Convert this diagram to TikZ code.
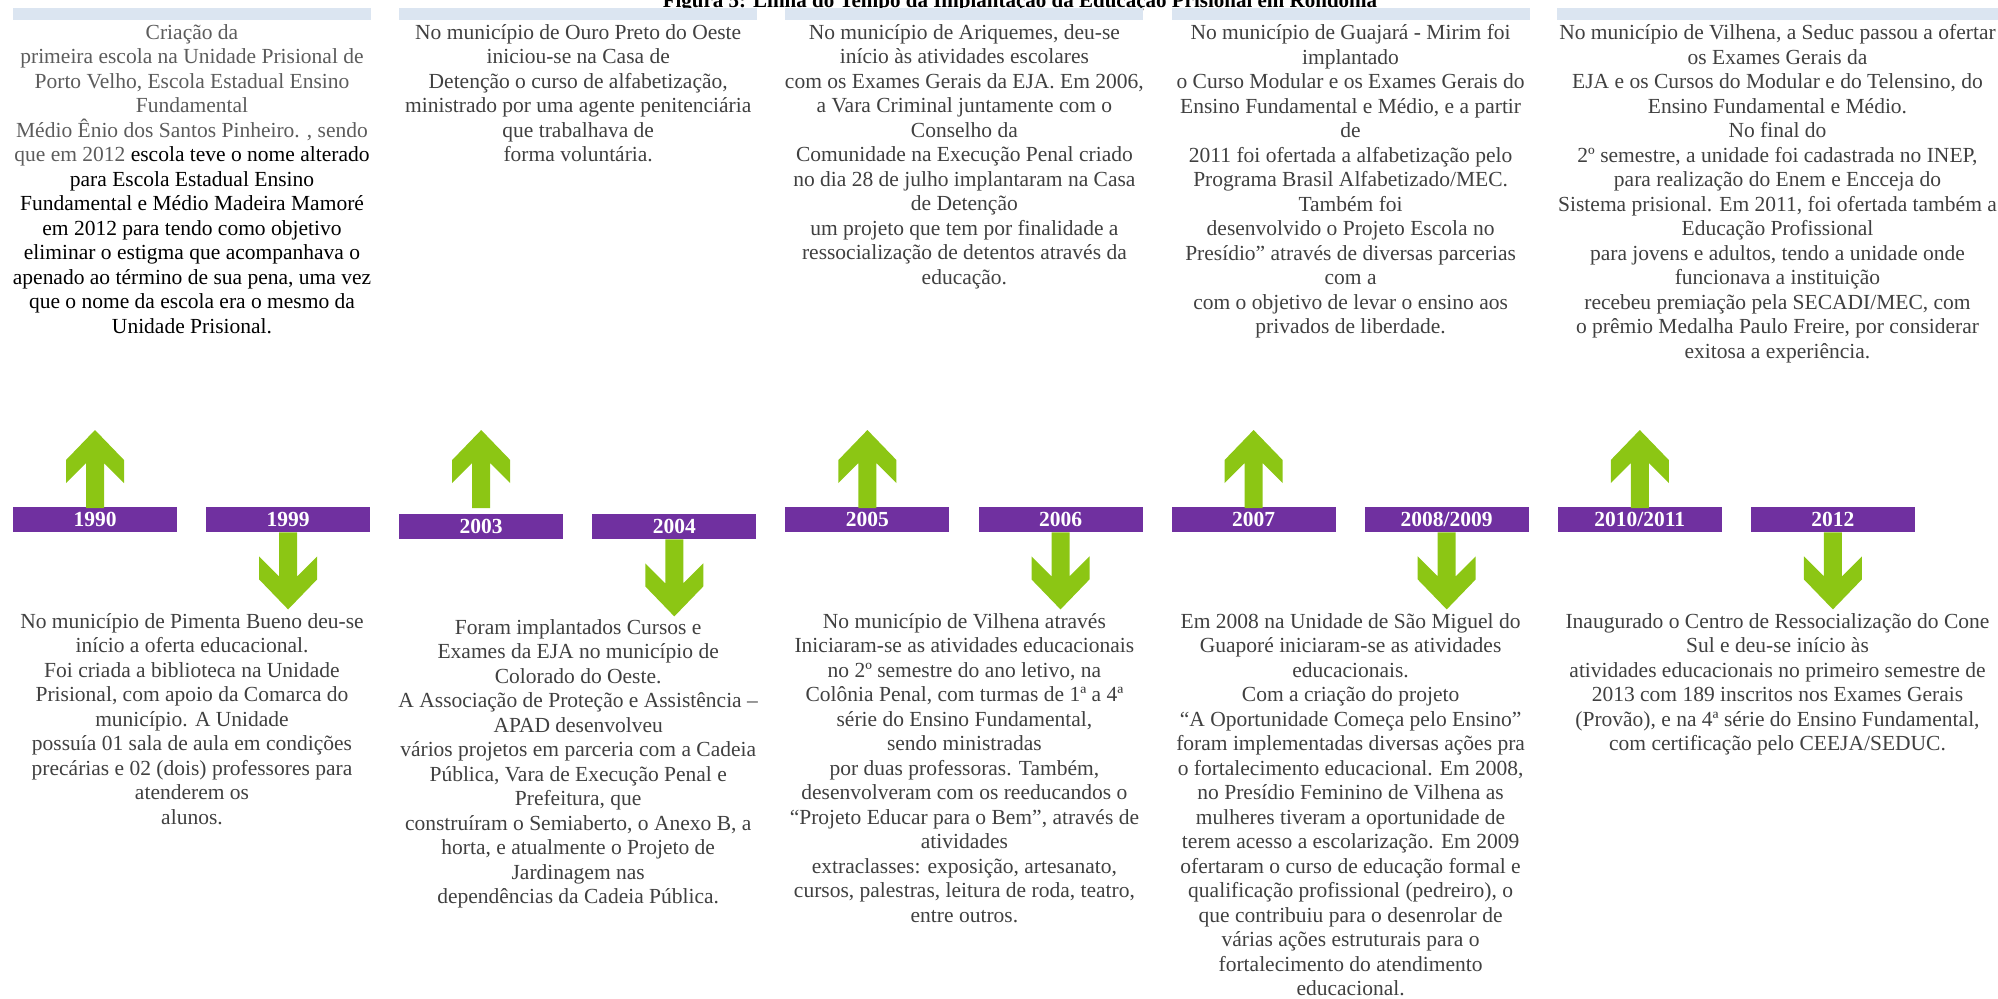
\documentclass[tikz,border=0pt]{standalone}
\usepackage{fontspec}
\setmainfont{Liberation Serif}
\usetikzlibrary{positioning}

\definecolor{yearpurple}{RGB}{112,48,160}
\definecolor{arrowgreen}{RGB}{140,198,20}
\definecolor{headblue}{RGB}{219,229,241}
\definecolor{txtgray}{RGB}{64,64,64}
\definecolor{softgray}{RGB}{92,92,92}

% green arrows, drawn from a year bar
\newcommand{\greenup}[1]{\fill[arrowgreen] (#1.center |- 0,430) -- ++(-29,30) -- ++(0,23) -- ++(20,-20) -- ++(0,45) -- ++(18,0) -- ++(0,-45) -- ++(20,20) -- ++(0,-23) -- cycle;}
\newcommand{\greendown}[1]{\fill[arrowgreen] (#1.south) ++(-9,0) -- ++(0,44) -- ++(-20,-20) -- ++(0,23) -- ++(29,30) -- ++(29,-30) -- ++(0,-23) -- ++(-20,20) -- ++(0,-44) -- cycle;}
\newcommand{\blk}[1]{\textcolor{black}{#1}}

\begin{document}
\begin{tikzpicture}[x=0.5pt,y=-0.5pt,node distance=96.55pt]

% Define block styles
\tikzstyle{year} = [rectangle, fill=yearpurple, text=white, minimum width=82pt, minimum height=12.5pt, inner sep=0pt, font=\fontsize{10.75}{12.25}\selectfont\bfseries]
\tikzstyle{head} = [rectangle, fill=headblue, minimum width=179pt, minimum height=6pt, inner sep=0pt]
\tikzstyle{story} = [align=center, inner sep=0pt, anchor=north, text=txtgray, font=\fontsize{10.75}{12.25}\selectfont]

\useasboundingbox (0,0) rectangle (1998,998);

% Title, cut by the page top
\node (title) [anchor=base, font=\fontsize{10.5}{12}\selectfont\bfseries] at (1020,7) {Figura 5: Linha do Tempo da Implantação da Educação Prisional em Rondônia};

% Header bars
\node (h1) [head] at (192,14) {};
\node (h2) [head, right of = h1, node distance=193.1pt] {};
\node (h3) [head, right of = h2, node distance=193.1pt] {};
\node (h4) [head, right of = h3, node distance=193.1pt] {};
\node (h5) [head, minimum width=220.5pt] at (1777.5,14) {};

% Year bars
\node (y1990) [year] at (95,519.5) {1990};
\node (y1999) [year, right of = y1990] {1999};
\node (y2003) [year, right of = y1999, yshift=-3.5pt] {2003};
\node (y2004) [year, right of = y2003] {2004};
\node (y2005) [year, right of = y2004, yshift=3.5pt] {2005};
\node (y2006) [year, right of = y2005] {2006};
\node (y2007) [year, right of = y2006] {2007};
\node (y2008) [year, right of = y2007] {2008/2009};
\node (y2010) [year, right of = y2008] {2010/2011};
\node (y2012) [year, right of = y2010] {2012};

% Draw arrows
\greenup{y1990}
\greendown{y1999}
\greenup{y2003}
\greendown{y2004}
\greenup{y2005}
\greendown{y2006}
\greenup{y2007}
\greendown{y2008}
\greenup{y2010}
\greendown{y2012}

% Texts above the line
\node (t1990) [story, text=softgray] at (h1.center |- 0,24) {Criação da\\
primeira escola na Unidade Prisional de\\
Porto Velho, Escola Estadual Ensino\\
Fundamental\\
Médio Ênio dos Santos Pinheiro. , sendo\\
que em 2012 \blk{escola teve o nome alterado}\\
\blk{para Escola Estadual Ensino}\\
\blk{Fundamental e Médio Madeira Mamoré}\\
\blk{em 2012 para tendo como objetivo}\\
\blk{eliminar o estigma que acompanhava o}\\
\blk{apenado ao término de sua pena, uma vez}\\
\blk{que o nome da escola era o mesmo da}\\
\blk{Unidade Prisional.}};

\node (t2003) [story] at (h2.center |- 0,24) {No município de Ouro Preto do Oeste\\
iniciou-se na Casa de\\
Detenção o curso de alfabetização,\\
ministrado por uma agente penitenciária\\
que trabalhava de\\
forma voluntária.};

\node (t2005) [story] at (h3.center |- 0,24) {No município de Ariquemes, deu-se\\
início às atividades escolares\\
com os Exames Gerais da EJA. Em 2006,\\
a Vara Criminal juntamente com o\\
Conselho da\\
Comunidade na Execução Penal criado\\
no dia 28 de julho implantaram na Casa\\
de Detenção\\
um projeto que tem por finalidade a\\
ressocialização de detentos através da\\
educação.};

\node (t2007) [story] at (h4.center |- 0,24) {No município de Guajará - Mirim foi\\
implantado\\
o Curso Modular e os Exames Gerais do\\
Ensino Fundamental e Médio, e a partir\\
de\\
2011 foi ofertada a alfabetização pelo\\
Programa Brasil Alfabetizado/MEC.\\
Também foi\\
desenvolvido o Projeto Escola no\\
Presídio” através de diversas parcerias\\
com a\\
com o objetivo de levar o ensino aos\\
privados de liberdade.};

\node (t2010) [story] at (h5.center |- 0,24) {No município de Vilhena, a Seduc passou a ofertar\\
os Exames Gerais da\\
EJA e os Cursos do Modular e do Telensino, do\\
Ensino Fundamental e Médio.\\
No final do\\
2º semestre, a unidade foi cadastrada no INEP,\\
para realização do Enem e Encceja do\\
Sistema prisional. Em 2011, foi ofertada também a\\
Educação Profissional\\
para jovens e adultos, tendo a unidade onde\\
funcionava a instituição\\
recebeu premiação pela SECADI/MEC, com\\
o prêmio Medalha Paulo Freire, por considerar\\
exitosa a experiência.};

% Texts below the line
\node (t1999) [story] at (h1.center |- 0,613) {No município de Pimenta Bueno deu-se\\
início a oferta educacional.\\
Foi criada a biblioteca na Unidade\\
Prisional, com apoio da Comarca do\\
município. A Unidade\\
possuía 01 sala de aula em condições\\
precárias e 02 (dois) professores para\\
atenderem os\\
alunos.};

\node (t2004) [story] at (h2.center |- 0,619) {Foram implantados Cursos e\\
Exames da EJA no município de\\
Colorado do Oeste.\\
A Associação de Proteção e Assistência –\\
APAD desenvolveu\\
vários projetos em parceria com a Cadeia\\
Pública, Vara de Execução Penal e\\
Prefeitura, que\\
construíram o Semiaberto, o Anexo B, a\\
horta, e atualmente o Projeto de\\
Jardinagem nas\\
dependências da Cadeia Pública.};

\node (t2006) [story] at (h3.center |- 0,613) {No município de Vilhena através\\
Iniciaram-se as atividades educacionais\\
no 2º semestre do ano letivo, na\\
Colônia Penal, com turmas de 1ª a 4ª\\
série do Ensino Fundamental,\\
sendo ministradas\\
por duas professoras. Também,\\
desenvolveram com os reeducandos o\\
“Projeto Educar para o Bem”, através de\\
atividades\\
extraclasses: exposição, artesanato,\\
cursos, palestras, leitura de roda, teatro,\\
entre outros.};

\node (t2008) [story] at (h4.center |- 0,613) {Em 2008 na Unidade de São Miguel do\\
Guaporé iniciaram-se as atividades\\
educacionais.\\
Com a criação do projeto\\
“A Oportunidade Começa pelo Ensino”\\
foram implementadas diversas ações pra\\
o fortalecimento educacional. Em 2008,\\
no Presídio Feminino de Vilhena as\\
mulheres tiveram a oportunidade de\\
terem acesso a escolarização. Em 2009\\
ofertaram o curso de educação formal e\\
qualificação profissional (pedreiro), o\\
que contribuiu para o desenrolar de\\
várias ações estruturais para o\\
fortalecimento do atendimento\\
educacional.};

\node (t2012) [story] at (h5.center |- 0,613) {Inaugurado o Centro de Ressocialização do Cone\\
Sul e deu-se início às\\
atividades educacionais no primeiro semestre de\\
2013 com 189 inscritos nos Exames Gerais\\
(Provão), e na 4ª série do Ensino Fundamental,\\
com certificação pelo CEEJA/SEDUC.};

\end{tikzpicture}
\end{document}
